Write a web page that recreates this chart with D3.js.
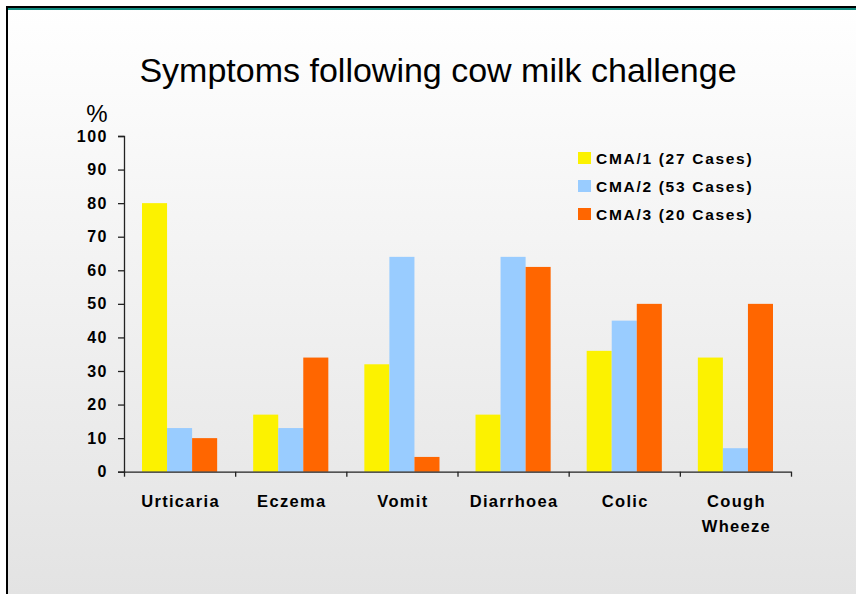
<!DOCTYPE html>
<html>
<head>
<meta charset="utf-8">
<script src="https://cdn.jsdelivr.net/npm/d3@7"></script>
<style>
  html, body { margin: 0; padding: 0; background: #fff; }
  svg { display: block; }
  text { font-family: "Liberation Sans", Arial, sans-serif; fill: #000; }
</style>
</head>
<body>
<svg id="chart" width="856" height="594"></svg>
<script>
// Symptom categories along the x axis (multi-line labels split on "\n")
const categories = ["Urticaria", "Eczema", "Vomit", "Diarrhoea", "Colic", "Cough\nWheeze"];

// Series names as shown in the legend
const seriesNames = ["CMA/1 (27 Cases)", "CMA/2 (53 Cases)", "CMA/3 (20 Cases)"];

// Percentage of patients with each symptom, per series
const cma1 = [80, 17, 32, 17, 36, 34];
const cma2 = [13, 13, 64, 64, 45, 7];
const cma3 = [10, 34, 4.4, 61, 50, 50];

// Y axis ticks
const yTicks = [0, 10, 20, 30, 40, 50, 60, 70, 80, 90, 100];

const seriesValues = [cma1, cma2, cma3];
const colors = ["#FCF200", "#99CCFF", "#FF6600"];

const W = 856, H = 594;
const svg = d3.select("#chart");

// Slide background: soft vertical gradient
const defs = svg.append("defs");
const grad = defs.append("linearGradient")
  .attr("id", "bg").attr("x1", 0).attr("y1", 0).attr("x2", 0).attr("y2", 1);
grad.append("stop").attr("offset", "0%").attr("stop-color", "#ffffff");
grad.append("stop").attr("offset", "100%").attr("stop-color", "#e3e3e3");

svg.append("rect").attr("width", W).attr("height", H).attr("fill", "#ffffff");
svg.append("rect").attr("x", 6).attr("y", 6).attr("width", W - 6).attr("height", H - 6)
  .attr("fill", "url(#bg)");

// Frame: black top rule with teal band under it, black left edge
svg.append("rect").attr("x", 6).attr("y", 6).attr("width", W - 6).attr("height", 2).attr("fill", "#000");
svg.append("rect").attr("x", 8).attr("y", 8).attr("width", W - 8).attr("height", 2).attr("fill", "#0e8b7e");
svg.append("rect").attr("x", 6).attr("y", 6).attr("width", 2).attr("height", H - 6).attr("fill", "#000");

// Title
svg.append("text")
  .attr("x", 438).attr("y", 82)
  .attr("text-anchor", "middle")
  .style("font-size", "34px")
  .text("Symptoms following cow milk challenge");

// Scales
const x0 = d3.scaleBand().domain(d3.range(categories.length)).range([124, 791]).padding(0);
const bw = x0.bandwidth();
const x1 = d3.scaleBand().domain(d3.range(seriesNames.length))
  .range([bw * 0.162, bw * 0.838]).padding(0);
const y = d3.scaleLinear().domain([0, 100]).range([471.7, 136]);

const g = svg.append("g");

// Bars
const groups = g.selectAll("g.cat").data(categories).join("g")
  .attr("class", "cat")
  .attr("transform", (d, i) => `translate(${x0(i)},0)`);

groups.selectAll("rect")
  .data((d, i) => seriesValues.map((vals, s) => ({ s, v: vals[i] })))
  .join("rect")
  .attr("x", d => x1(d.s))
  .attr("width", x1.bandwidth())
  .attr("y", d => y(d.v))
  .attr("height", d => y(0) - y(d.v))
  .attr("fill", d => colors[d.s]);

// Y axis
const yAxis = d3.axisLeft(y).tickValues(yTicks).tickSize(6).tickPadding(10).tickFormat(d3.format("d"));
const yg = svg.append("g").attr("transform", "translate(124,0)").call(yAxis);
yg.select(".domain").attr("stroke", "#222").attr("stroke-width", 1.3);
yg.selectAll(".tick line").attr("stroke", "#222").attr("stroke-width", 1.3);
yg.selectAll(".tick text")
  .style("font-size", "16px").style("font-weight", "bold")
  .style("letter-spacing", "1.5px")
  .attr("fill", "#000");

// "%" unit label
svg.append("text").attr("x", 97).attr("y", 122)
  .attr("text-anchor", "middle")
  .style("font-size", "24px")
  .text("%");

// X axis: ticks at category boundaries
const xEdge = d3.scaleLinear().domain([0, categories.length]).range([124, 791]);
const xAxis = d3.axisBottom(xEdge).tickValues(d3.range(categories.length + 1))
  .tickSize(5).tickSizeOuter(0).tickFormat("");
const xg = svg.append("g").attr("transform", `translate(0,${y(0)})`).call(xAxis);
xg.select(".domain").attr("stroke", "#222").attr("stroke-width", 1.3);
xg.selectAll(".tick line").attr("stroke", "#222").attr("stroke-width", 1.3);

// Category labels
const labels = svg.append("g").selectAll("text").data(categories).join("text")
  .attr("x", (d, i) => x0(i) + bw / 2 + 1)
  .attr("y", 507)
  .attr("text-anchor", "middle")
  .style("font-size", "16.5px").style("font-weight", "bold")
  .style("letter-spacing", "1.3px");
labels.each(function (d) {
  const t = d3.select(this);
  d.split("\n").forEach((line, k) => {
    t.append("tspan").attr("x", t.attr("x")).attr("dy", k === 0 ? 0 : 25).text(line);
  });
});

// Legend
const legend = svg.append("g").attr("transform", "translate(578,152)");
const items = legend.selectAll("g").data(seriesNames).join("g")
  .attr("transform", (d, i) => `translate(0,${i * 28})`);
items.append("rect").attr("width", 13).attr("height", 12).attr("fill", (d, i) => colors[i]);
items.append("text").attr("x", 18).attr("y", 11.5)
  .style("font-size", "15.5px").style("font-weight", "bold")
  .style("letter-spacing", "1.7px")
  .text(d => d);
</script>
</body>
</html>
